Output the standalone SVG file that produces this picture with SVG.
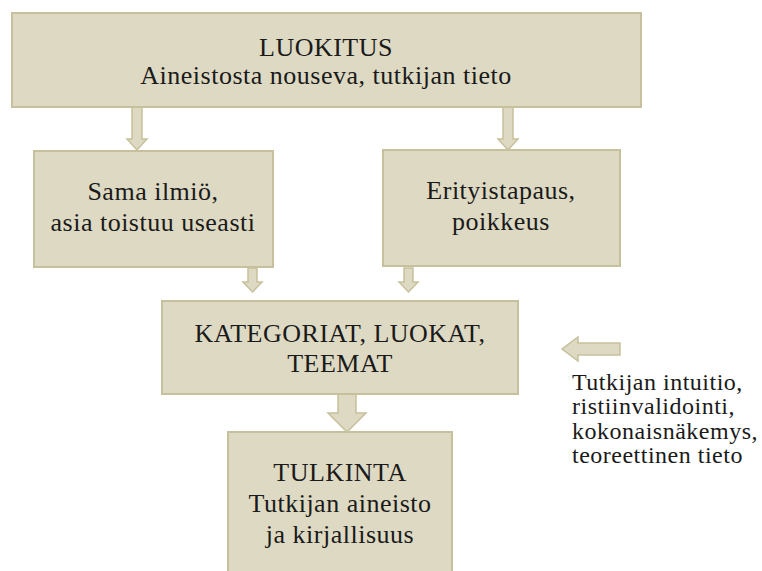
<svg xmlns="http://www.w3.org/2000/svg" width="762" height="571" viewBox="0 0 762 571">
<style>
.box{fill:#DDD9C3;stroke:#C7C09C;stroke-width:2}
.arr{fill:#DDD9C3;stroke:#C7C09C;stroke-width:1.5}
text{font-family:"Liberation Serif","DejaVu Serif",serif;fill:#1a1a1a;text-anchor:middle}
.t{font-size:26px;letter-spacing:0.5px}
.s{font-size:24px;letter-spacing:0.5px;text-anchor:start}
</style>
<rect width="762" height="571" fill="#ffffff"/>
<g id="connectors">
<path class="arr" d="M132,107 H142 V139 H147 L137,150 L127,139 H132 Z"/>
<path class="arr" d="M503,107 H513 V139 H518 L508,150 L498,139 H503 Z"/>
<path class="arr" d="M248,268 H257 V282 H262 L252.5,292 L243,282 H248 Z"/>
<path class="arr" d="M404,268 H413 V282 H418 L408.5,292 L399,282 H404 Z"/>
<path class="arr" d="M338,394 H356 V413 H366 L347,432 L328,413 H338 Z"/>
<path class="arr" d="M620,343 V355 H578 V361 L562,349 L578,337 V343 Z"/>
</g>
<g id="luokitus">
<rect class="box" x="12" y="13" width="629" height="94"/>
<text class="t" x="326" y="56">LUOKITUS</text>
<text class="t" x="326" y="84">Aineistosta nouseva, tutkijan tieto</text>
</g>
<g id="sama">
<rect class="box" x="34" y="151" width="239" height="116"/>
<text class="t" x="153" y="200">Sama ilmiö,</text>
<text class="t" x="153" y="231">asia toistuu useasti</text>
</g>
<g id="erityis">
<rect class="box" x="383" y="150" width="237" height="116"/>
<text class="t" x="501" y="199">Erityistapaus,</text>
<text class="t" x="501" y="230">poikkeus</text>
</g>
<g id="kategoriat">
<rect class="box" x="162" y="301" width="356" height="93"/>
<text class="t" x="340" y="342">KATEGORIAT, LUOKAT,</text>
<text class="t" x="340" y="372">TEEMAT</text>
</g>
<g id="tulkinta">
<rect class="box" x="228" y="432" width="224" height="145"/>
<text class="t" x="340" y="481">TULKINTA</text>
<text class="t" x="340" y="512">Tutkijan aineisto</text>
<text class="t" x="340" y="543">ja kirjallisuus</text>
</g>
<g id="tutkijan">
<text class="s" x="572" y="390">Tutkijan intuitio,</text>
<text class="s" x="572" y="414">ristiinvalidointi,</text>
<text class="s" x="572" y="439">kokonaisnäkemys,</text>
<text class="s" x="572" y="463">teoreettinen tieto</text>
</g>
</svg>
